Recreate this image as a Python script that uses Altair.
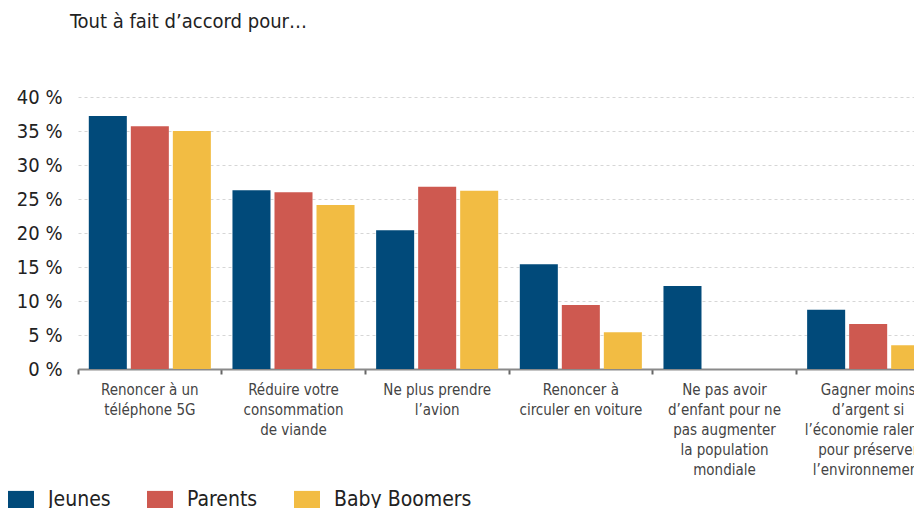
import altair as alt
import pandas as pd

categories = [
    "Renoncer à un\ntéléphone 5G",
    "Réduire votre\nconsommation\nde viande",
    "Ne plus prendre\nl’avion",
    "Renoncer à\ncirculer en voiture",
    "Ne pas avoir\nd’enfant pour ne\npas augmenter\nla population\nmondiale",
    "Gagner moins\nd’argent si\nl’économie ralentit\npour préserver\nl’environnement",
]
groups = ["Jeunes", "Parents", "Baby Boomers"]
jeunes = [37.2, 26.3, 20.4, 15.4, 12.2, 8.7]
parents = [35.7, 26.0, 26.8, 9.4, None, 6.6]
boomers = [35.0, 24.1, 26.2, 5.4, None, 3.5]
colors = ["#014a7a", "#ce5950", "#f2bc43"]
y_ticks = [0, 5, 10, 15, 20, 25, 30, 35, 40]

rows = []
for g, vals in zip(groups, [jeunes, parents, boomers]):
    for c, v in zip(categories, vals):
        rows.append({"cat": c, "group": g, "value": v})
df = pd.DataFrame(rows)

FONT = "DejaVu Sans Condensed, Liberation Sans Narrow, sans-serif"

chart = alt.Chart(df).mark_bar().encode(
    x=alt.X(
        "cat:N",
        sort=categories,
        title=None,
        scale=alt.Scale(paddingInner=0, paddingOuter=0, range=[0, 862]),
        axis=alt.Axis(
            bandPosition=0,
            labelAngle=0,
            labelAlign="center",
            labelBaseline="top",
            labelExpr="split(datum.label, '\\n')",
            labelLineHeight=20,
            labelFontSize=15,
            labelFont=FONT,
            labelColor="#444",
            labelPadding=8,
            labelLimit=300,
            domainColor="#8a8a8a",
            domainWidth=2,
            tickColor="#666",
            tickSize=5,
            tickWidth=2,
            grid=False,
        ),
    ),
    xOffset=alt.XOffset(
        "group:N", sort=groups,
        scale=alt.Scale(paddingInner=0.095, paddingOuter=0.257),
    ),
    y=alt.Y(
        "value:Q",
        title=None,
        scale=alt.Scale(domain=[0, 40], nice=False),
        axis=alt.Axis(
            values=y_ticks,
            labelExpr="datum.value + ' %'",
            domain=False,
            ticks=False,
            grid=True,
            gridDash=[3, 3],
            gridColor="#d6d6d6",
            gridWidth=1,
            labelFontSize=20,
            labelFont=FONT,
            labelColor="#222",
            labelPadding=16,
        ),
    ),
    color=alt.Color(
        "group:N",
        sort=groups,
        scale=alt.Scale(domain=groups, range=colors),
        legend=alt.Legend(
            title=None,
            orient="none",
            direction="horizontal",
            legendX=-70,
            legendY=390,
            symbolType="M-1,-0.7H1V0.7H-1Z",
            symbolSize=676,
            symbolStrokeWidth=0,
            symbolOpacity=1,
            labelFontSize=21,
            labelFont=FONT,
            labelColor="#222",
            labelOffset=14,
            columnPadding=36,
        ),
    ),
).properties(
    width=836,
    height=272,
    autosize=alt.AutoSizeParams(type="none"),
    padding={"left": 70, "top": 89, "right": 0, "bottom": 140},
    title=alt.TitleParams(
        "Tout à fait d’accord pour…",
        anchor="start",
        frame="group",
        dx=-8,
        offset=55,
        fontSize=20,
        font=FONT,
        fontWeight="normal",
        color="#222",
    ),
).configure_view(stroke=None)

chart.save("out.html", embed_options={"renderer": "svg", "actions": False})
